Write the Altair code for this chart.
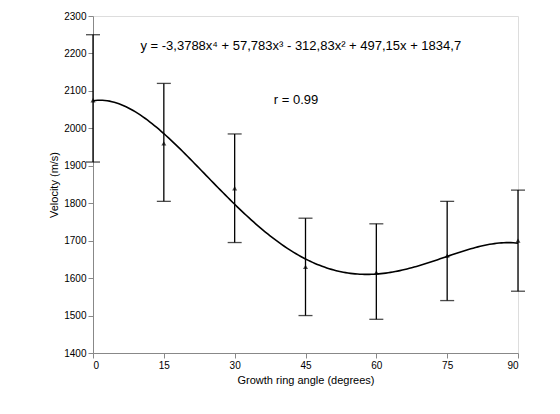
import altair as alt
import pandas as pd

angles = [0, 15, 30, 45, 60, 75, 90]
means = [2075, 1960, 1840, 1630, 1615, 1660, 1700]
upper = [2250, 2120, 1985, 1760, 1745, 1805, 1835]
lower = [1910, 1805, 1695, 1500, 1490, 1540, 1565]
yticks = [1400, 1500, 1600, 1700, 1800, 1900, 2000, 2100, 2200, 2300]

df = pd.DataFrame({"angle": angles, "mean": means, "hi": upper, "lo": lower})

font = "Liberation Sans"
xs = alt.Scale(domain=[0, 90], nice=False)
ys = alt.Scale(domain=[1400, 2300], nice=False)
xaxis = alt.Axis(values=angles, title="Growth ring angle (degrees)", grid=False,
                 titleFontWeight="normal", labelOverlap=False)
yaxis = alt.Axis(values=yticks, format="d", title="Velocity  (m/s)", grid=False,
                 titleFontWeight="normal", labelOverlap=False)


def X(field):
    return alt.X(field, scale=xs, axis=xaxis)


def Y(field):
    return alt.Y(field, scale=ys, axis=yaxis)


base = alt.Chart(df)

bars = base.mark_rule(color="black", strokeWidth=1.3).encode(x=X("angle:Q"), y=Y("lo:Q"), y2="hi:Q")
caps_hi = base.mark_tick(color="black", size=14, thickness=1.3, orient="horizontal").encode(
    x=X("angle:Q"), y=Y("hi:Q")
)
caps_lo = base.mark_tick(color="black", size=14, thickness=1.3, orient="horizontal").encode(
    x=X("angle:Q"), y=Y("lo:Q")
)
pts = base.mark_point(shape="triangle-up", filled=True, color="black", size=25).encode(
    x=X("angle:Q"), y=Y("mean:Q")
)

curve = (
    alt.Chart(alt.sequence(0, 90.5, 0.5, as_="angle"))
    .transform_calculate(
        t="datum.angle / 15 + 1",
        v="-3.3788*pow(datum.t,4) + 57.783*pow(datum.t,3) - 312.83*pow(datum.t,2) + 497.15*datum.t + 1834.7",
    )
    .mark_line(color="black", strokeWidth=1.6)
    .encode(x=X("angle:Q"), y=Y("v:Q"))
)

labels = pd.DataFrame({
    "angle": [44, 43],
    "v": [2220, 2075],
    "txt": ["y = -3,3788x⁴ + 57,783x³ - 312,83x² + 497,15x + 1834,7", "r = 0.99"],
})
text = alt.Chart(labels).mark_text(font=font, fontSize=13, color="black").encode(
    x=X("angle:Q"), y=Y("v:Q"), text="txt:N"
)

chart = (
    alt.layer(bars, caps_hi, caps_lo, curve, pts, text)
    .properties(width=425, height=337, autosize="none",
                padding={"left": 85, "top": 8, "right": 26, "bottom": 45})
    .configure_view(stroke=None)
    .configure_axis(labelFont=font, titleFont=font, labelFontSize=14, titleFontSize=13,
                    labelColor="black", titleColor="black", labelPadding=4,
                    domainColor="black", tickColor="black", tickSize=5, domainWidth=1.5)
    .configure(background="white")
)

chart.save("out.html", embed_options={"renderer": "svg", "actions": False})
